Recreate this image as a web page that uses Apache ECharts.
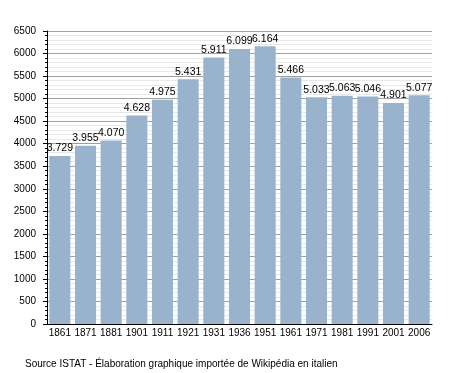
<!DOCTYPE html>
<html><head><meta charset="utf-8">
<script src="https://cdn.jsdelivr.net/npm/echarts@6/dist/echarts.min.js"></script>
<style>html,body{margin:0;padding:0;background:#fff}#c{width:458px;height:373px}</style>
</head><body><div id="c"></div>
<script>
const categories = ['1861','1871','1881','1901','1911','1921','1931','1936','1951','1961','1971','1981','1991','2001','2006'];
const population = [3729,3955,4070,4628,4975,5431,5911,6099,6164,5466,5033,5063,5046,4901,5077];
const yTicks = {min:0, max:6500, interval:500};
const sourceText = 'Source ISTAT - Élaboration graphique importée de Wikipédia en italien';

const chart = echarts.init(document.getElementById('c'), null, {renderer:'canvas'});
const font = 'Liberation Sans, Arial, sans-serif';
chart.setOption({
  animation:false,
  backgroundColor:'#fff',
  textStyle:{fontFamily:font},
  title:{text:sourceText, left:20, top:354, textStyle:{fontSize:10, fontWeight:'normal', color:'#000', fontFamily:font}},
  grid:{left:47, right:26, top:31, bottom:49},
  xAxis:{type:'category', data:categories,
    axisLine:{lineStyle:{color:'#000', width:1}},
    axisTick:{show:false},
    axisLabel:{interval:0, color:'#000', fontSize:10, margin:4, fontFamily:font}},
  yAxis:{type:'value', min:yTicks.min, max:yTicks.max, interval:yTicks.interval,
    axisLine:{show:true, lineStyle:{color:'#000'}},
    axisTick:{show:true, length:4, lineStyle:{color:'#000'}},
    minorTick:{show:true, splitNumber:5, length:2, lineStyle:{color:'#000'}},
    splitLine:{show:true, lineStyle:{color:'#a0a0a0', width:1}},
    minorSplitLine:{show:true, lineStyle:{color:'#e8e8e8', width:1}},
    axisLabel:{color:'#000', fontSize:10, margin:11, fontFamily:font, formatter:v => String(v)}},
  series:[{type:'bar', data:population, barCategoryGap:'18%',
    itemStyle:{color:'#99b3cd'},
    label:{show:true, position:'top', distance:2, color:'#000', fontSize:10.5, fontFamily:font,
      formatter:p => (p.value/1000).toFixed(3)}}]
});
</script></body></html>
